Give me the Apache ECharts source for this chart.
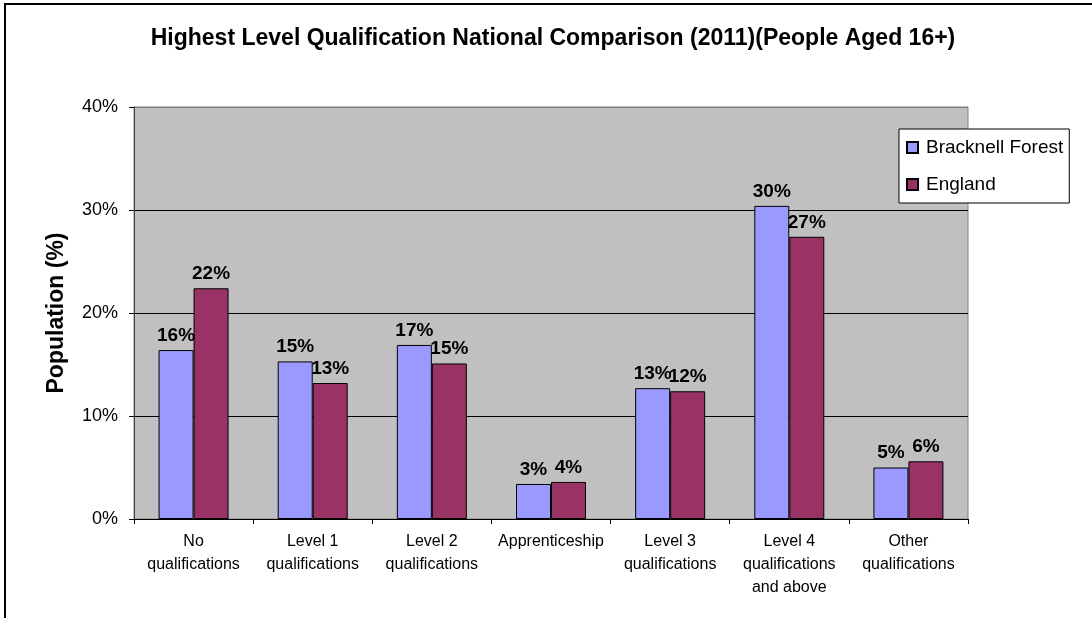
<!DOCTYPE html>
<html>
<head>
<meta charset="utf-8">
<script src="https://cdn.jsdelivr.net/npm/echarts@6/dist/echarts.min.js"></script>
<style>
  html, body { margin: 0; padding: 0; background: #fff; }
  #main { width: 1092px; height: 618px; }
</style>
</head>
<body>
<div id="main"></div>
<script>
// data
const categories = [
  "No\nqualifications",
  "Level 1\nqualifications",
  "Level 2\nqualifications",
  "Apprenticeship",
  "Level 3\nqualifications",
  "Level 4\nqualifications\nand above",
  "Other\nqualifications"
];
const bracknell = [16.4, 15.3, 16.9, 3.4, 12.7, 30.4, 5.0];
const england = [22.4, 13.2, 15.1, 3.6, 12.4, 27.4, 5.6];
const yTicks = [0, 10, 20, 30, 40];

const font = "Liberation Sans, Arial, sans-serif";

let chart = echarts.init(document.getElementById("main"));

const label = {
  show: true,
  position: "top",
  distance: 5,
  fontFamily: font,
  fontSize: 19,
  fontWeight: "bold",
  color: "#000",
  formatter: (p) => Math.round(p.value) + "%",
};

let option = {
  backgroundColor: "#fff",
  animation: false,
  title: {
    text: "Highest Level Qualification National Comparison (2011)(People Aged 16+)",
    left: 548,
    textAlign: "center",
    top: 22,
    textStyle: { fontFamily: font, fontSize: 23, fontWeight: "bold", color: "#000" },
  },
  graphic: [
    {
      type: "rect",
      shape: { x: 5, y: 4, width: 1200, height: 700 },
      style: { fill: "none", stroke: "#000", lineWidth: 2 },
      silent: true,
    },
  ],
  legend: {
    orient: "vertical",
    left: 899,
    top: 129,
    padding: [9, 6, 9, 7],
    itemGap: 18,
    itemWidth: 11,
    itemHeight: 11,
    backgroundColor: "#fff",
    borderColor: "#000",
    borderWidth: 1,
    icon: "rect",
    textStyle: { fontFamily: font, fontSize: 19, color: "#000", padding: [0, 0, 0, 3] },
    data: ["Bracknell Forest", "England"],
  },
  grid: {
    left: 134,
    top: 107,
    width: 834,
    height: 412,
    show: true,
    backgroundColor: "#C0C0C0",
    borderColor: "#808080",
    borderWidth: 1,
    containLabel: false,
  },
  xAxis: {
    type: "category",
    data: categories,
    axisLine: { lineStyle: { color: "#000", width: 1 } },
    axisTick: { show: true, length: 5, alignWithLabel: false, lineStyle: { color: "#000" } },
    axisLabel: {
      interval: 0,
      margin: 11,
      fontFamily: font,
      fontSize: 16,
      lineHeight: 23,
      color: "#000",
    },
  },
  yAxis: {
    type: "value",
    min: yTicks[0],
    max: yTicks[yTicks.length - 1],
    interval: 10,
    name: "Population (%)",
    nameLocation: "middle",
    nameGap: 66,
    nameTextStyle: { fontFamily: font, fontSize: 23, fontWeight: "bold", color: "#000" },
    axisLine: { show: true, lineStyle: { color: "#404040", width: 1 } },
    axisTick: { show: true, length: 5, inside: false, lineStyle: { color: "#000" } },
    axisLabel: {
      margin: 16,
      fontFamily: font,
      fontSize: 18,
      color: "#000",
      formatter: (v) => v + "%",
    },
    splitLine: {
      show: true,
      lineStyle: { color: ["#000", "#000", "#000", "#000", "#808080"], width: 1 },
    },
  },
  series: [
    {
      name: "Bracknell Forest",
      type: "bar",
      data: bracknell,
      barWidth: 35,
      barGap: "0%",
      itemStyle: { color: "#9999FF", borderColor: "#000", borderWidth: 1 },
      label: label,
    },
    {
      name: "England",
      type: "bar",
      data: england,
      barWidth: 35,
      barGap: "0%",
      itemStyle: { color: "#993366", borderColor: "#000", borderWidth: 1 },
      label: label,
    },
  ],
};

chart.setOption(option);
</script>
</body>
</html>
